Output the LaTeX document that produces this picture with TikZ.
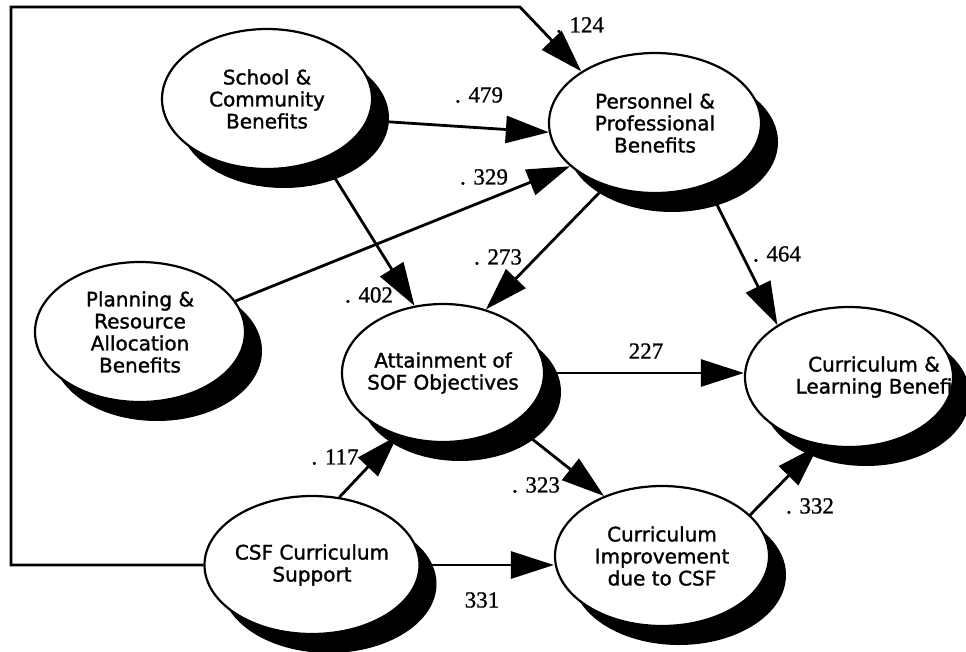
\documentclass[tikz,border=0pt]{standalone}
\usepackage{fontspec}
\setmainfont{DejaVu Sans}[FakeBold=1.4]
\newfontfamily\numfont{Liberation Serif}[FakeBold=0.9]
\usetikzlibrary{arrows.meta,shapes.geometric,shadows}

\begin{document}
\begin{tikzpicture}[x=1pt,y=-1pt,
    factor/.style={ellipse, draw, line width=2.2pt, fill=white, minimum width=210pt, minimum height=140pt, inner sep=0pt,
        drop shadow={shadow xshift=17pt, shadow yshift=-19pt, opacity=1, fill=black}},
    facttext/.style={align=center, font=\fontsize{20}{22}\selectfont},
    link/.style={line width=2.8pt, -{Triangle[length=43pt,width=27pt]}},
    coef/.style={font=\numfont\fontsize{23}{24}\selectfont}]
    \useasboundingbox (0,0) rectangle (966,651);

    \node[factor, label={[facttext]center:School \&\\Community\\Benefits}] (scb) at (267,99) {};
    \node[factor, minimum width=212pt, label={[facttext]center:Personnel \&\\Professional\\Benefits}] (ppb) at (655,123) {};
    \node[factor, label={[facttext]center:Planning \&\\Resource\\Allocation\\Benefits}] (prab) at (140,332) {};
    \node[factor, minimum width=202pt, minimum height=138pt, label={[facttext]center:Attainment of\\SOF Objectives}] (sof) at (443,373) {};
    \node[factor, minimum width=208pt, label={[facttext,xshift=25pt]center:Curriculum \&\\Learning Benefi}] (clb) at (849,377) {};
    \node[factor, minimum width=215pt, minimum height=138pt, label={[facttext]center:CSF Curriculum\\Support}] (csf) at (312,565) {};
    \node[factor, minimum width=214pt, label={[facttext]center:Curriculum\\Improvement\\due to CSF}] (cic) at (662,556) {};

    \coordinate (lc) at (11,7);
    \coordinate (tc) at (520,7);
    \draw[link] (csf.west) -| (lc) -- (tc) -- (ppb.145);
    \draw[link] (scb.-12) -- (ppb.185);
    \draw[link] (prab.18) -- (ppb.207);
    \draw[link] (scb.-47) -- (sof.113);
    \draw[link] (ppb.232) -- (sof.56);
    \draw[link] (ppb.-50) -- (clb.144);
    \draw[link] (sof.east) -- (sof.east -| clb.west);
    \draw[link] (csf.68) -- (sof.234);
    \draw[link] (sof.-36) -- (cic.134);
    \draw[link] (csf.east) -- (csf.east -| cic.west);
    \draw[link] (cic.25) -- (clb.246);

    \node[coef] (c124) at (580,25) {. 124};
    \node[coef] (c479) at (479,95) {. 479};
    \node[coef] (c329) at (484,177) {. 329};
    \node[coef] (c273) at (498,257) {. 273};
    \node[coef] (c464) at (777,254) {. 464};
    \node[coef] (c402) at (369,295) {. 402};
    \node[coef] (c227) at (646,351) {227};
    \node[coef] (c117) at (335,457) {. 117};
    \node[coef] (c323) at (536,485) {. 323};
    \node[coef] (c332) at (810,506) {. 332};
    \node[coef] (c331) at (482,600) {331};
\end{tikzpicture}
\end{document}
